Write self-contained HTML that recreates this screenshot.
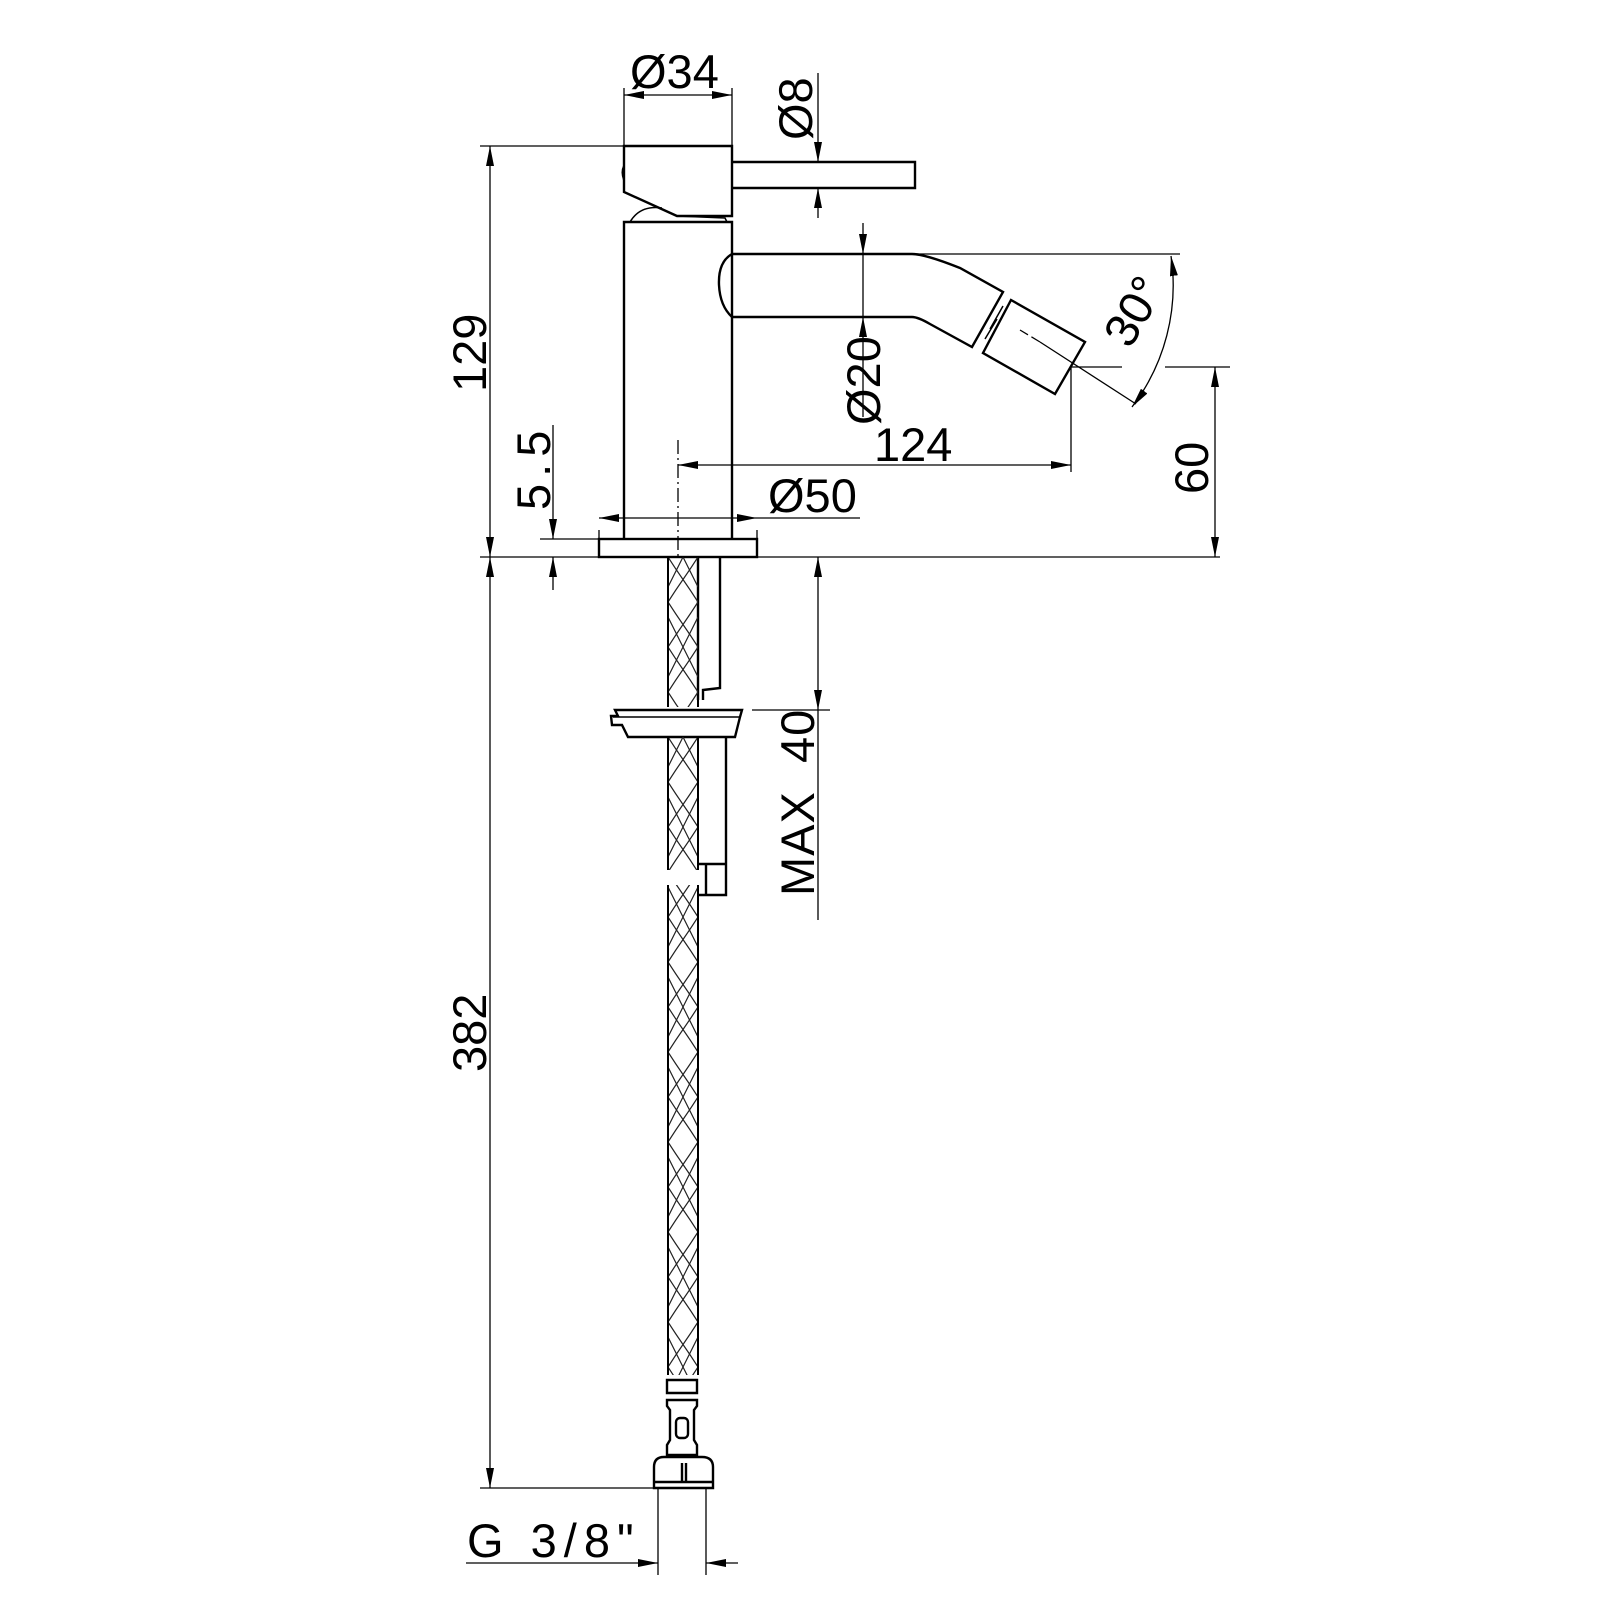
<!DOCTYPE html>
<html><head><meta charset="utf-8"><style>html,body{margin:0;padding:0;background:#fff}svg{display:block}</style></head>
<body>
<svg width="1600" height="1600" viewBox="0 0 1600 1600" xmlns="http://www.w3.org/2000/svg" font-family="Liberation Sans, sans-serif">
<defs>
<marker id="a" viewBox="0 0 20 8" refX="20" refY="4" markerWidth="20" markerHeight="8" markerUnits="userSpaceOnUse" orient="auto"><path d="M0,0 L20,4 L0,8 z" fill="#000"/></marker>
<marker id="b" viewBox="0 0 20 8" refX="20" refY="4" markerWidth="20" markerHeight="8" markerUnits="userSpaceOnUse" orient="auto-start-reverse"><path d="M0,0 L20,4 L0,8 z" fill="#000"/></marker>
<pattern id="br" x="668" y="557" width="30" height="90" patternUnits="userSpaceOnUse">
<path d="M0,0 C14,22 16,23 30,45 C16,67 14,68 0,90 M30,0 C16,22 14,23 0,45 C14,67 16,68 30,90 M15,0 L30,30 M15,0 L0,30 M0,60 L15,90 L30,60" fill="none" stroke="#222" stroke-width="1.2"/>
</pattern>
</defs>
<g fill="none" stroke="#000" stroke-width="2.4">
<path d="M624,146 H732 V216 H677 L624,192 Z"/>
<path d="M624,166 q-3,6 0,14" stroke-width="2"/>
<path d="M732,162 H915 V188 H732"/>
<path d="M630,222 Q640,205 662,208" stroke-width="1.5"/>
<path d="M677,216 L725,218 L727,222" stroke-width="1.5"/>
<path d="M624,539 V222 H732 V539"/>
<path d="M732,254 H912 Q925,254 960,268 L1003,292 L972,347 L930,324 Q918,317 912,317 H732"/>
<path d="M732,254 Q718,262 719,285 Q720,306 732,317"/>
<path d="M1011,300 L1085,342 L1055,394 L983,353 Z"/>
<path d="M1003,306 L990,329 M997,319 L985,339" stroke-width="1.5"/>
<rect x="599" y="539" width="158" height="18"/>
<path d="M698,557 V700 M720,557 V688 L703,690 V700"/>
<path d="M615,710 H742 L740,717 L735,737 H628 L622,725 H612 L611,716 H618 Z"/>
<path d="M613,717 H740" stroke-width="1.5"/>
<path d="M726,737 V895 H698 M706,864 V895 M698,864 H726"/>
<path d="M667,1380 H697 V1393 H667 Z M667,1400 H697 V1406 L694,1410 V1440 L697,1445 V1455 H667 V1445 L670,1440 V1410 L667,1406 Z"/>
<rect x="676" y="1418" width="12" height="20" rx="4"/>
<path d="M654,1467 Q654,1457 664,1457 H702 Q713,1457 713,1467 V1488 H654 Z M654,1482 H713 M682,1463 V1482 M686,1463 V1482"/>
</g>
<rect x="668" y="557" width="30" height="150" fill="url(#br)"/>
<rect x="668" y="737" width="30" height="133" fill="url(#br)"/>
<rect x="668" y="885" width="30" height="490" fill="url(#br)"/>
<g fill="none" stroke="#000" stroke-width="2">
<path d="M668,557 V707 M698,700 V707 M668,737 V870 M698,737 V870 M668,885 V1375 M698,885 V1375"/>
</g>
<g fill="none" stroke="#000" stroke-width="1.3">
<path d="M480,146 H624 M624,88 V146 M732,88 V146"/>
<path d="M624,95 H732" marker-start="url(#b)" marker-end="url(#b)"/>
<path d="M818,73 V162" marker-end="url(#a)"/><path d="M818,218 V188" marker-end="url(#a)"/>
<path d="M490,146 V557" marker-start="url(#b)" marker-end="url(#b)"/>
<path d="M490,557 V1488" marker-start="url(#b)" marker-end="url(#b)"/>
<path d="M480,1488 H654"/>
<path d="M480,557 H1220"/>
<path d="M540,539 H599"/>
<path d="M553,425 V539" marker-end="url(#a)"/><path d="M553,590 V557" marker-end="url(#a)"/>
<path d="M863,223 V254" marker-end="url(#a)"/><path d="M863,417 V317" marker-end="url(#a)"/><path d="M863,254 V317"/>
<path d="M599,530 V539 M757,530 V539"/>
<path d="M599,518 H757" marker-start="url(#b)" marker-end="url(#b)"/><path d="M757,518 H860"/>
<path d="M678,440 V560" stroke-dasharray="14,4,2,4"/>
<path d="M678,465 H1071" marker-start="url(#b)" marker-end="url(#b)"/>
<path d="M1071,367 V472"/>
<path d="M1040,342 L1136,404"/><path d="M1040,342 L1020,330" stroke-dasharray="10,4"/>
<path d="M1071,367 H1122 M1165,367 H1230"/>
<path d="M912,254 H1180"/>
<path d="M1171,256 A200,200 0 0 1 1132,407" marker-start="url(#b)" marker-end="url(#b)"/>
<path d="M1215,367 V557" marker-start="url(#b)" marker-end="url(#b)"/>
<path d="M818,557 V710" marker-start="url(#b)" marker-end="url(#b)"/><path d="M818,710 V920"/>
<path d="M752,710 H830"/>
<path d="M658,1488 V1575 M706,1488 V1575"/>
<path d="M466,1563 H658" marker-end="url(#a)"/><path d="M738,1563 H706" marker-end="url(#a)"/>
</g>
<g font-size="47" fill="#000">
<text x="630" y="88">Ø34</text>
<text transform="translate(812,140) rotate(-90)">Ø8</text>
<text transform="translate(486,392) rotate(-90)">129</text>
<text transform="translate(550,510) rotate(-90)" letter-spacing="7">5.5</text>
<text transform="translate(880,425) rotate(-90)">Ø20</text>
<text x="874" y="461">124</text>
<text x="768" y="512">Ø50</text>
<text transform="translate(1130,350) rotate(-60)">30°</text>
<text transform="translate(1208,494) rotate(-90)">60</text>
<text transform="translate(814,896) rotate(-90)" letter-spacing="1" xml:space="preserve">MAX  40</text>
<text transform="translate(486,1072) rotate(-90)">382</text>
<text x="467" y="1557" letter-spacing="7">G 3/8"</text>
</g>
</svg>
</body></html>
